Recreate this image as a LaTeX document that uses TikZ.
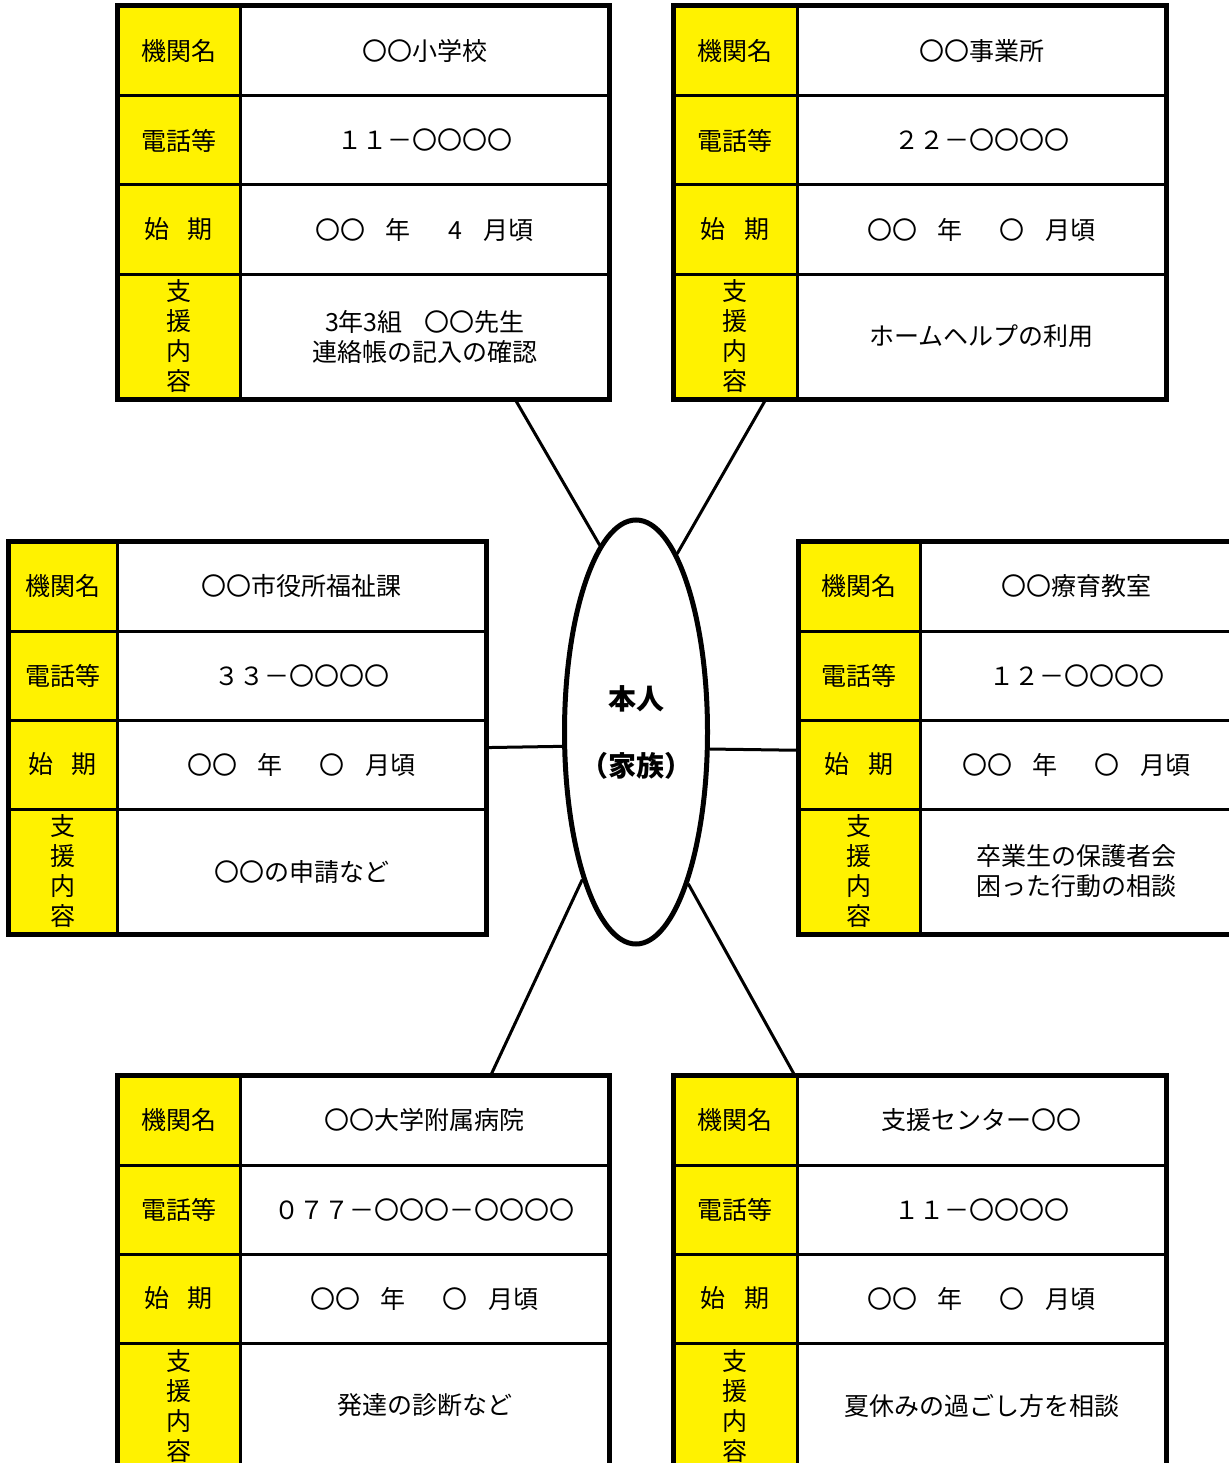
\documentclass[tikz,border=0pt]{standalone}
\usepackage{fontspec}
\setmainfont{Noto Sans CJK JP}
\usetikzlibrary{positioning,calc,shapes.geometric}

\tikzset{
  cell/.style={draw,line width=3pt,outer sep=0pt,inner sep=0pt,align=center,font=\fontsize{25}{30}\selectfont},
  labelcell/.style={cell,fill=yellow},
  valuecell/.style={cell,fill=white},
  outerline/.style={line width=5pt},
  link/.style={line width=3pt}
}

\newcommand{\kikanperiod}[1]{〇〇\hspace{.8em}年\hspace{1.5em}#1\hspace{.85em}月頃}

% #1 prefix, #2 x, #3 y, #4 label width, #5 value width, #6-#9 row texts
\newcommand{\kikanbox}[9]{%
  \node[labelcell,anchor=north west,minimum width=#4pt,minimum height=90pt] (#1-k1) at (#2,#3) {機関名};
  \node[valuecell,minimum width=#5pt,minimum height=90pt,right=0pt of #1-k1] (#1-v1) {#6};
  \node[labelcell,minimum width=#4pt,minimum height=89pt,below=0pt of #1-k1] (#1-k2) {電話等};
  \node[valuecell,minimum width=#5pt,minimum height=89pt,right=0pt of #1-k2] (#1-v2) {#7};
  \node[labelcell,minimum width=#4pt,minimum height=89pt,below=0pt of #1-k2] (#1-k3) {始\hspace{.75em}期};
  \node[valuecell,minimum width=#5pt,minimum height=89pt,right=0pt of #1-k3] (#1-v3) {#8};
  \node[labelcell,minimum width=#4pt,minimum height=125pt,below=0pt of #1-k3] (#1-k4) {支\\援\\内\\容};
  \node[valuecell,minimum width=#5pt,minimum height=125pt,right=0pt of #1-k4] (#1-v4) {#9};
  \draw[outerline] (#1-k1.north west) rectangle (#1-v4.south east);
}

\begin{document}
\begin{tikzpicture}[x=1pt,y=-1pt]
\useasboundingbox (0,0) rectangle (1228,1463);

\kikanbox{tl}{117}{6}{123}{369}{〇〇小学校}{１１－〇〇〇〇}{\kikanperiod{4}}{3年3組\hspace{.85em}〇〇先生\\連絡帳の記入の確認}
\kikanbox{tr}{673}{6}{124}{369}{〇〇事業所}{２２－〇〇〇〇}{\kikanperiod{〇}}{ホームヘルプの利用}
\kikanbox{ml}{8}{541}{109}{369}{〇〇市役所福祉課}{３３－〇〇〇〇}{\kikanperiod{〇}}{〇〇の申請など}
\kikanbox{mr}{798}{541}{122}{313}{〇〇療育教室}{１２－〇〇〇〇}{\kikanperiod{〇}}{卒業生の保護者会\\困った行動の相談}
\kikanbox{bl}{117}{1075}{123}{369}{〇〇大学附属病院}{０７７－〇〇〇－〇〇〇〇}{\kikanperiod{〇}}{発達の診断など}
\kikanbox{br}{673}{1075}{124}{369}{支援センター〇〇}{１１－〇〇〇〇}{\kikanperiod{〇}}{夏休みの過ごし方を相談}

\node[ellipse,draw,line width=5pt,fill=white,inner sep=0pt,minimum width=143pt,minimum height=424pt,
  align=center,font=\fontsize{28}{67}\selectfont\bfseries] (honnin) at (636,732)
  {\makebox[0pt]{本人}\\\makebox[0pt]{（家族）}};

\draw[link] ($(tl-v4.south west)!.745!(tl-v4.south east)$) -- (honnin.101.7);
\draw[link] ($(tr-k4.south west)!.75!(tr-k4.south east)$) -- (honnin.77.7);
\draw[link] ($(ml-v3.north east)!.31!(ml-v3.south east)$) -- (honnin.191.5);
\draw[link] ($(mr-k3.north west)!.34!(mr-k3.south west)$) -- (honnin.347);
\draw[link] ($(bl-v1.north west)!.68!(bl-v1.north east)$) -- (honnin.250.6);
\draw[link] ($(br-k1.north west)!.98!(br-k1.north east)$) -- (honnin.289.7);
\end{tikzpicture}
\end{document}
